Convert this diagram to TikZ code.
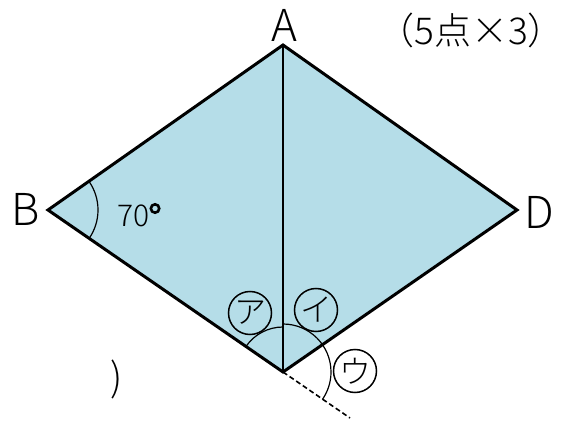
\documentclass[tikz,border=0pt]{standalone}
\usepackage{fontspec}
\usetikzlibrary{calc}
\setmainfont{Noto Sans CJK JP}[UprightFont=* Light]
\definecolor{fillblue}{HTML}{B5DDE8}
\begin{document}
\begin{tikzpicture}[x=1pt,y=1pt,
  vlabel/.style={font=\fontsize{44}{44}\selectfont},
  outline/.style={line width=3pt,line join=miter},
  anglearc/.style={line width=1.2pt},
  circ/.style={circle,draw,line width=1.5pt,minimum size=43pt,inner sep=0pt,
    font=\fontsize{32}{32}\selectfont}]
\useasboundingbox (0,0) rectangle (565,421);
\coordinate (A) at (283,376);
\coordinate (B) at (48,211);
\coordinate (C) at (283,49);
\coordinate (D) at (517,211);
\coordinate (E) at (350,3);
\fill[fillblue] (A) -- (B) -- (C) -- (D) -- cycle;
\draw[line width=1.6pt,dashed,dash pattern=on 5pt off 3pt] (C) -- (E);
\draw[anglearc] ($(B)+(-35:50)$) arc[start angle=-35,end angle=35,radius=50];
\draw[anglearc] ($(C)+(145:45)$) arc[start angle=145,end angle=90,radius=45];
\draw[anglearc] ($(C)+(90:48)$) arc[start angle=90,end angle=-35,radius=48];
\draw[line width=2.2pt] (A) -- (C);
\draw[outline] (A) -- (B) -- (C) -- (D) -- cycle;
\node[vlabel] (la) at (284,396) {A};
\node[vlabel] (lb) at (26,212) {B};
\node[vlabel] (ld) at (539,209) {D};
\node[font=\fontsize{30}{30}\selectfont,inner sep=0pt] (ang) at (139,206) {70\raisebox{0.42em}{\tikz\draw[line width=2.6pt] (0,0) circle (4.2pt);}};
\node[circ] (ka) at (250,108) {ア};
\node[circ] (ki) at (316,111) {イ};
\node[circ] (ku) at (355,50) {ウ};
\node[font=\fontsize{37}{37}\selectfont] (pts) at (471,391) {（5点×3）};
\node[font=\fontsize{39}{39}\selectfont] (par) at (117,42) {)};
\end{tikzpicture}
\end{document}
